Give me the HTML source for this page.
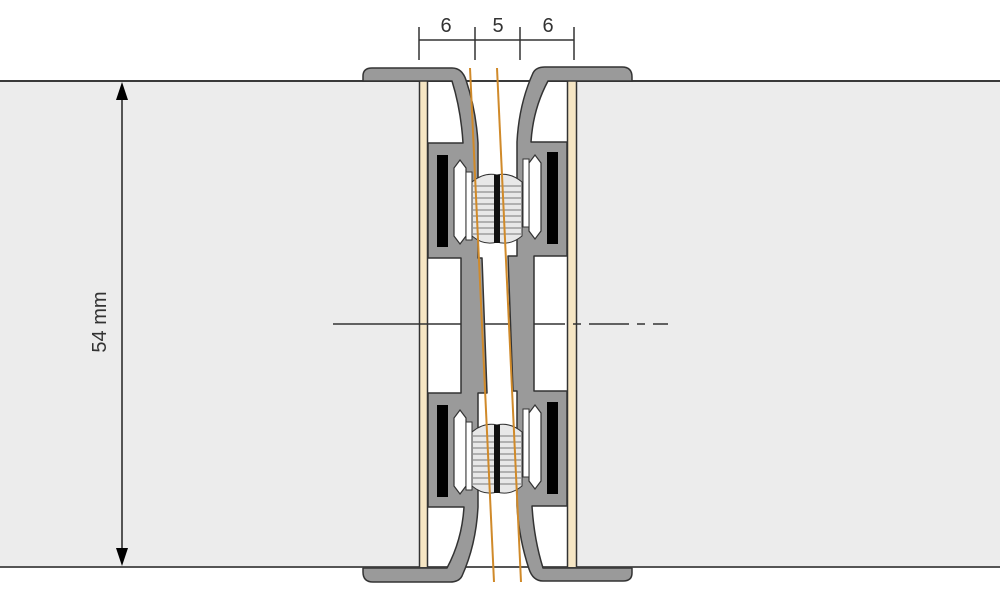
<!DOCTYPE html>
<html><head><meta charset="utf-8"><style>html,body{margin:0;padding:0;background:#fff}svg{display:block}</style></head>
<body>
<svg width="1000" height="603" viewBox="0 0 1000 603" xmlns="http://www.w3.org/2000/svg">
<rect width="1000" height="603" fill="#fff"/>
<!-- door panels -->
<rect x="0" y="81" width="420" height="486" fill="#ececec"/>
<rect x="576" y="81" width="424" height="486" fill="#ececec"/>
<line x1="0" y1="81" x2="1000" y2="81" stroke="#3a3a3a" stroke-width="2"/>
<line x1="0" y1="567" x2="1000" y2="567" stroke="#555" stroke-width="2"/>
<!-- inner white gap -->
<rect x="428" y="82" width="140" height="484" fill="#fff"/>
<!-- door edges -->
<rect x="420" y="81" width="8" height="486" fill="#f6e6c4"/>
<line x1="419.5" y1="81" x2="419.5" y2="567" stroke="#333" stroke-width="1.5"/>
<line x1="427.5" y1="81" x2="427.5" y2="567" stroke="#333" stroke-width="1.5"/>
<rect x="568" y="81" width="8" height="486" fill="#f6e6c4"/>
<line x1="567.5" y1="81" x2="567.5" y2="567" stroke="#333" stroke-width="1.5"/>
<line x1="576.5" y1="81" x2="576.5" y2="567" stroke="#333" stroke-width="1.5"/>
<!-- center line -->
<line x1="333" y1="324" x2="520" y2="324" stroke="#333" stroke-width="1.5"/>
<line x1="525" y1="324" x2="668" y2="324" stroke="#333" stroke-width="1.5" stroke-dasharray="40,8,8,8"/>

<defs>
<g id="prof">
<path d="M363,76 Q363,68 372,68 L452,68 Q462,68 466,80 Q476,110 478,143 L478,258 L482,258 L487,393 L478,393 L478,507 Q476,545 462,576 Q459,582 450,582 L373,582 Q363,582 363,572 L363,568 L447,568 Q462,540 464,507 L428,507 L428,393 L461,393 L461,258 L428,258 L428,143 L463,143 Q461,110 452,81 L363,81 Z" fill="#9a9a9a" stroke="#333" stroke-width="1.5" stroke-linejoin="round"/>
<rect x="437" y="155" width="11" height="92" fill="#000"/>
<rect x="437" y="405" width="11" height="92" fill="#000"/>
<path d="M454,168 L460,160 L466,168 L466,236 L460,244 L454,236 Z" fill="#fff" stroke="#333" stroke-width="1.2"/>
<path d="M454,418 L460,410 L466,418 L466,486 L460,494 L454,486 Z" fill="#fff" stroke="#333" stroke-width="1.2"/>
<rect x="466" y="172" width="6" height="68" fill="#fff" stroke="#333" stroke-width="1"/>
<rect x="466" y="422" width="6" height="68" fill="#fff" stroke="#333" stroke-width="1"/>
</g>
<g id="brush">
<path d="M472,182 Q484,172 497,175 Q510,172 522,182 L522,236 Q510,246 497,242 Q484,246 472,236 Z" fill="#e8e8e8" stroke="#333" stroke-width="1"/>
<g stroke="#555" stroke-width="0.8">
<line x1="473" y1="186" x2="521" y2="186"/><line x1="473" y1="192" x2="521" y2="192"/>
<line x1="473" y1="198" x2="521" y2="198"/><line x1="473" y1="204" x2="521" y2="204"/>
<line x1="473" y1="210" x2="521" y2="210"/><line x1="473" y1="216" x2="521" y2="216"/>
<line x1="473" y1="222" x2="521" y2="222"/><line x1="473" y1="228" x2="521" y2="228"/>
<line x1="473" y1="234" x2="521" y2="234"/>
</g>
<rect x="494" y="175" width="6" height="68" fill="#111"/>
</g>
</defs>
<use href="#prof"/>
<use href="#prof" transform="rotate(180 497.5 324.5)"/>
<use href="#brush"/>
<use href="#brush" transform="translate(0,250)"/>
<!-- orange lines -->
<line x1="470" y1="68" x2="494" y2="582" stroke="#d08a2a" stroke-width="2"/>
<line x1="497" y1="68" x2="521" y2="582" stroke="#d08a2a" stroke-width="2"/>
<!-- top dimension -->
<g stroke="#333" stroke-width="1.5">
<line x1="419" y1="40" x2="574" y2="40"/>
<line x1="419" y1="27" x2="419" y2="60"/>
<line x1="475" y1="27" x2="475" y2="60"/>
<line x1="520" y1="27" x2="520" y2="60"/>
<line x1="574" y1="27" x2="574" y2="60"/>
</g>
<g font-family="Liberation Sans, sans-serif" font-size="20" fill="#333" text-anchor="middle">
<text x="446" y="32">6</text>
<text x="498" y="32">5</text>
<text x="548" y="32">6</text>
</g>
<!-- vertical dimension -->
<line x1="122" y1="95" x2="122" y2="553" stroke="#555" stroke-width="2"/>
<path d="M122,82 L116,100 L128,100 Z" fill="#000"/>
<path d="M122,566 L116,548 L128,548 Z" fill="#000"/>
<text x="0" y="0" transform="translate(106,322) rotate(-90)" font-family="Liberation Sans, sans-serif" font-size="20" fill="#333" text-anchor="middle">54 mm</text>
</svg>
</body></html>
